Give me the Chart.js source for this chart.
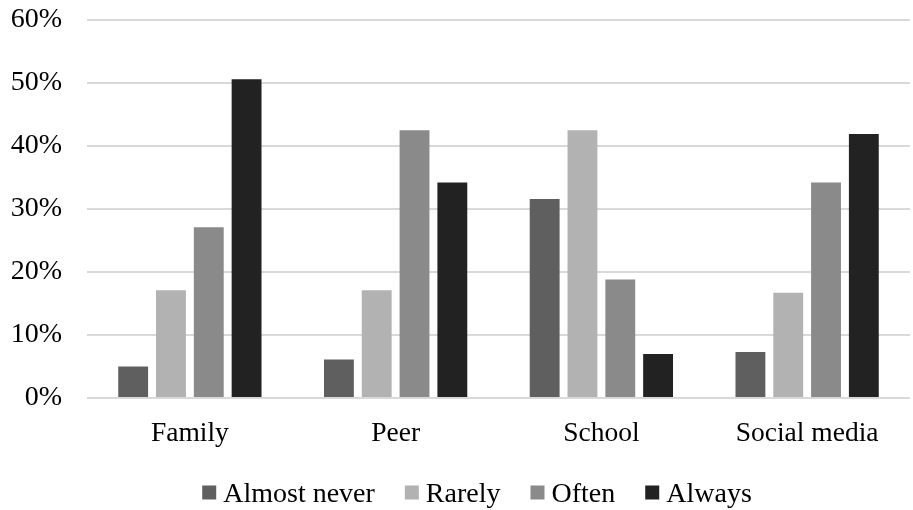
<!DOCTYPE html>
<html>
<head>
<meta charset="utf-8">
<script src="https://cdn.jsdelivr.net/npm/chart.js@4/dist/chart.umd.min.js"></script>
<style>
  html, body { margin: 0; padding: 0; background: #ffffff; }
  #wrap { width: 913px; height: 510px; position: relative; }
</style>
</head>
<body>
<div id="wrap"><canvas id="chart" width="913" height="510"></canvas></div>
<script>
// Sources of influence (x-axis groups)
const categories = ['Family', 'Peer', 'School', 'Social media'];

// Frequency responses, share of respondents in percent
const almostNever = [5.0, 6.1, 31.6, 7.3];
const rarely      = [17.1, 17.1, 42.5, 16.7];
const often       = [27.1, 42.5, 18.8, 34.2];
const always      = [50.6, 34.2, 7.0, 41.9];

const seriesNames = ['Almost never', 'Rarely', 'Often', 'Always'];
const yTicks = [0, 10, 20, 30, 40, 50, 60];

const FONT = '"Liberation Serif", "Times New Roman", serif';
const colors = ['#5f5f5f', '#b2b2b2', '#8a8a8a', '#222222'];

// Legend drawn as a single centred row of square swatches
const rowLegend = {
  id: 'rowLegend',
  afterDraw(chart) {
    const ctx = chart.ctx;
    const box = 14, gapText = 7, gapItem = 30;
    ctx.save();
    ctx.font = '28px ' + FONT;
    ctx.textBaseline = 'alphabetic';
    ctx.textAlign = 'left';
    const items = chart.data.datasets.map(ds => ({
      label: ds.label, color: ds.backgroundColor,
      w: box + gapText + ctx.measureText(ds.label).width
    }));
    const total = items.reduce((s, it) => s + it.w, 0) + gapItem * (items.length - 1);
    let x = 477 - total / 2;
    const baseline = 502;
    items.forEach(it => {
      ctx.fillStyle = it.color;
      ctx.fillRect(x, baseline - 16.5, box, box);
      ctx.fillStyle = '#000000';
      ctx.fillText(it.label, x + box + gapText, baseline);
      x += it.w + gapItem;
    });
    ctx.restore();
  }
};

const seriesValues = [almostNever, rarely, often, always];

new Chart(document.getElementById('chart'), {
  type: 'bar',
  data: {
    labels: categories,
    datasets: seriesNames.map((name, i) => ({
      label: name,
      data: seriesValues[i],
      backgroundColor: colors[i],
      borderWidth: 0,
      categoryPercentage: 0.735,
      barPercentage: 0.79
    }))
  },
  options: {
    responsive: false,
    animation: false,
    devicePixelRatio: 1,
    layout: { padding: { left: 0, right: 3, top: 20, bottom: 52 } },
    plugins: {
      legend: { display: false },
      tooltip: { enabled: false }
    },
    scales: {
      x: {
        grid: { display: false, drawTicks: false },
        border: { display: false },
        ticks: {
          color: '#000000',
          font: { family: FONT, size: 27.5 },
          padding: 19,
          maxRotation: 0
        },
        afterFit(scale) { scale.height = 60; }
      },
      y: {
        min: 0,
        max: 60,
        afterBuildTicks(scale) { scale.ticks = yTicks.map(v => ({ value: v })); },
        grid: { color: '#d9d9d9', lineWidth: 2, drawTicks: false },
        border: { display: false },
        ticks: {
          color: '#000000',
          font: { family: FONT, size: 28 },
          padding: 25,
          callback: v => v + '%'
        },
        afterFit(scale) {
          scale.width = 87;
          scale.paddingTop = 0;
          scale.paddingBottom = 0;
        }
      }
    }
  },
  plugins: [rowLegend]
});
</script>
</body>
</html>
